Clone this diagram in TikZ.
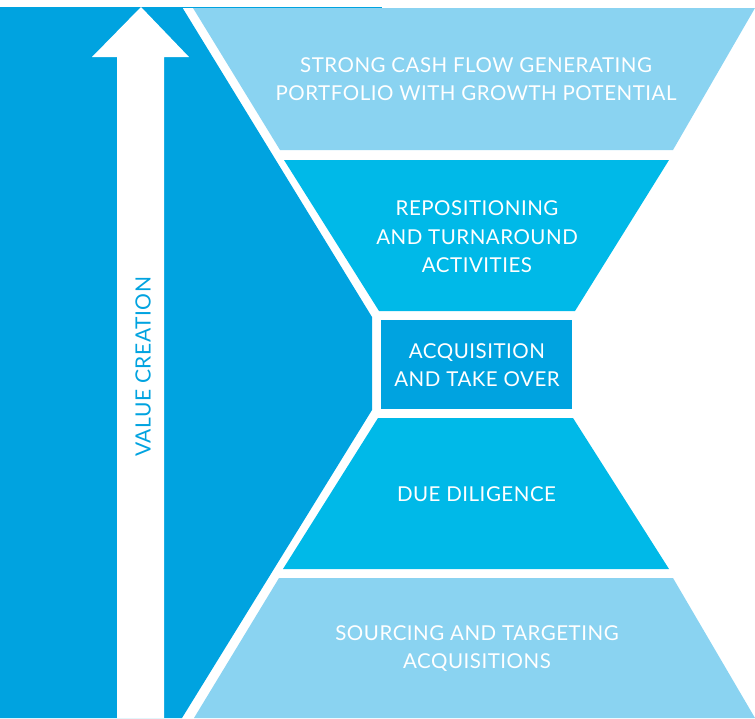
\documentclass[tikz,border=0pt]{standalone}
\usepackage{fontspec}
\setmainfont{Lato}[LetterSpace=2.5]
\definecolor{dkblue}{HTML}{00A3E0}
\definecolor{mdblue}{HTML}{00B9E8}
\definecolor{ltblue}{HTML}{8AD3F1}
\begin{document}
\begin{tikzpicture}[x=1pt,y=-1pt,
  lbl/.style={text=white,font=\fontsize{20.5}{28.5}\selectfont,align=center,inner sep=0pt}]
\useasboundingbox (0,0) rectangle (755,718);
% left dark region
\fill[dkblue] (0,7) -- (182,7) -- (372,317) -- (372,410) -- (182,718) -- (0,718) -- cycle;
% value creation arrow
\fill[white] (117,718) -- (117,57) -- (92,57) -- (141,7) -- (189,57) -- (164,57) -- (164,718) -- cycle;
% levels
\fill[ltblue] (193,8) -- (755,8) -- (673,150) -- (280,150) -- cycle;
\draw[dkblue,line width=1pt] (182,7.2) -- (382,7.2);
\fill[mdblue] (284,160) -- (669,160) -- (575,311) -- (379,311) -- cycle;
\fill[dkblue] (381,320) rectangle (572,409);
\fill[mdblue] (378,418) -- (573,418) -- (669,569) -- (283,569) -- cycle;
\fill[ltblue] (279,578) -- (673,578) -- (755,718) -- (194,718) -- cycle;
% labels
\node[lbl] (l1) at (476,79) {STRONG CASH FLOW GENERATING\\PORTFOLIO WITH GROWTH POTENTIAL};
\node[lbl] (l2) at (477,237) {REPOSITIONING\\AND TURNAROUND\\ACTIVITIES};
\node[lbl] (l3) at (477,365) {ACQUISITION\\AND TAKE OVER};
\node[lbl] (l4) at (476.5,494.5) {DUE DILIGENCE};
\node[lbl] (l5) at (477,648.5) {SOURCING AND TARGETING\\ACQUISITIONS};
\node[lbl,text=dkblue,rotate=90,font=\fontsize{21}{25}\selectfont] (vc) at (143,367) {VALUE CREATION};
\end{tikzpicture}
\end{document}
